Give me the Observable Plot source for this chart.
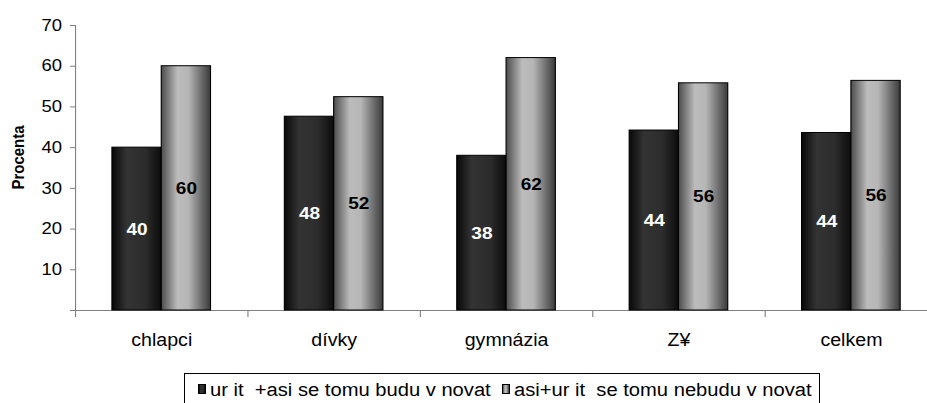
<!DOCTYPE html>
<html>
<head>
<meta charset="utf-8">
<script src="https://cdn.jsdelivr.net/npm/d3@7"></script>
<script src="https://cdn.jsdelivr.net/npm/@observablehq/plot@0.6"></script>
<style>
  body { margin: 0; background: #fff; font-family: "Liberation Sans", Arial, sans-serif; }
  #wrap { position: relative; width: 927px; height: 403px; overflow: hidden; background: #fff; }
  #legend { position: absolute; left: 184px; top: 373px; width: 636px; height: 40px; border: 1px solid #000; box-sizing: border-box; background: #fff; }
  #legend .sw { position: absolute; top: 10px; width: 8px; height: 10px; border: 1px solid #000; box-sizing: border-box; }
  #legend .tx { position: absolute; top: 7px; font-size: 18px; line-height: 18px; white-space: pre; transform: scaleX(1.12); transform-origin: 0 0; color: #000; }
</style>
</head>
<body>
<div id="wrap"></div>
<script>
// ---- data ----
const categories = ["chlapci", "dívky", "gymnázia", "Z¥", "celkem"];
const seriesNames = ["ur it  +asi se tomu budu v novat", "asi+ur it  se tomu nebudu v novat"];
const valuesA = [40, 47.6, 38, 44.2, 43.6];
const valuesB = [60, 52.4, 62, 55.8, 56.4];
const yTicks = [0, 10, 20, 30, 40, 50, 60, 70];
const yLabel = "Procenta";

// ---- layout ----
const S = 1.12;                    // horizontal stretch of the original picture
const W = Math.round(927 / S);
const H = 362;
const mL = 67, mR = -9.3;
const bw = (W - mL - mR) / categories.length;
const barW = bw * 0.286;

const darkData = categories.map((c, i) => ({cat: c, value: valuesA[i]}));
const lightData = categories.map((c, i) => ({cat: c, value: valuesB[i]}));

const svg = Plot.plot({
  width: W,
  height: H,
  marginLeft: mL,
  marginRight: mR,
  marginTop: 25,
  marginBottom: 52,
  style: {fontFamily: "'Liberation Sans', Arial, sans-serif", fontSize: "16px", background: "white", color: "black"},
  x: {domain: categories, padding: 0, label: null},
  y: {domain: [0, 70], label: null},
  marks: [
    Plot.ruleY([0], {stroke: "#808080", insetLeft: -4.5}),
    Plot.ruleX([categories[0]], {x: d => d, y1: 70, y2: 0, dx: -bw / 2, stroke: "#808080", insetBottom: -7}),
    Plot.ruleX(categories.slice(1), {x: d => d, y1: 0, y2: 0, dx: -bw / 2, stroke: "#808080", insetBottom: -7}),
    Plot.axisY(yTicks, {tickSize: 4.5, tickPadding: 7.5, stroke: "#808080", fill: "black", fontSize: 16.5, label: null,
      tickFormat: d => d === 0 ? "" : String(d)}),
    Plot.axisX({tickSize: 0, tickPadding: 23, fontSize: 17.5, fill: "black", label: null}),
    Plot.barY(darkData, {x: "cat", y: "value", fill: "url(#gDark)", stroke: "black", strokeWidth: 1,
      insetLeft: bw / 2 - barW, insetRight: bw / 2}),
    Plot.barY(lightData, {x: "cat", y: "value", fill: "url(#gLight)", stroke: "black", strokeWidth: 1,
      insetLeft: bw / 2, insetRight: bw / 2 - barW}),
    Plot.text(darkData, {x: "cat", y: d => d.value / 2, text: d => d.value.toFixed(0), dx: -barW / 2,
      fill: "white", fontWeight: "bold", fontSize: 17}),
    Plot.text(lightData, {x: "cat", y: d => d.value / 2, text: d => d.value.toFixed(0), dx: barW / 2,
      fill: "black", fontWeight: "bold", fontSize: 17}),
    Plot.text([yLabel], {text: d => d, frameAnchor: "left", textAnchor: "middle", dx: -50.6, dy: -10.5, rotate: -90,
      fontWeight: "bold", fontSize: 15, fill: "black"})
  ]
});

// gradients
const defs = d3.create("svg:defs");
function addGrad(id, stops) {
  const g = defs.append("linearGradient").attr("id", id)
    .attr("x1", 0).attr("x2", 1).attr("y1", 0).attr("y2", 0);
  stops.forEach(([o, c]) => g.append("stop").attr("offset", o).attr("stop-color", c));
}
addGrad("gDark", [[0, "#080808"], [0.3, "#333333"], [0.68, "#2c2c2c"], [1, "#0c0c0c"]]);
addGrad("gLight", [[0, "#4c4c4c"], [0.33, "#bcbcbc"], [0.55, "#b6b6b6"], [1, "#3a3a3a"]]);
svg.prepend(defs.node());

// stretch horizontally like the original picture
svg.setAttribute("preserveAspectRatio", "none");
svg.setAttribute("width", 927);
svg.style.width = "927px";
svg.style.height = H + "px";
svg.style.maxWidth = "none";

const wrap = document.getElementById("wrap");
wrap.appendChild(svg);

// legend
const legend = document.createElement("div");
legend.id = "legend";
const swGrad = [
  "linear-gradient(to right, #080808, #333333 30%, #2c2c2c 68%, #0c0c0c)",
  "linear-gradient(to right, #4c4c4c, #bcbcbc 33%, #b6b6b6 55%, #3a3a3a)"
];
const swLeft = [13, 317];
seriesNames.forEach((name, i) => {
  const sw = document.createElement("div");
  sw.className = "sw";
  sw.style.left = swLeft[i] + "px";
  sw.style.background = swGrad[i];
  legend.appendChild(sw);
  const tx = document.createElement("div");
  tx.className = "tx";
  tx.style.left = (swLeft[i] + 11.5) + "px";
  tx.textContent = name;
  legend.appendChild(tx);
});
wrap.appendChild(legend);
</script>
</body>
</html>
